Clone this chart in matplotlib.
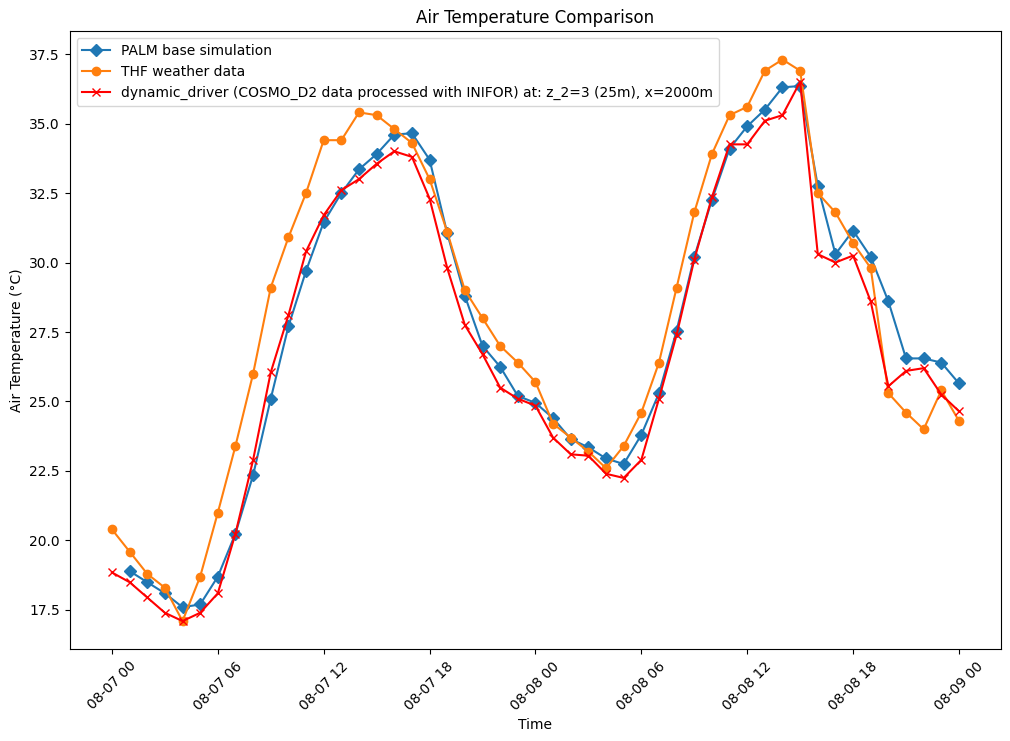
import matplotlib
matplotlib.use("Agg")
import matplotlib.pyplot as plt
import matplotlib.dates as mdates
import numpy as np
import pandas as pd

palm_times = pd.date_range("2023-08-07 01:00", "2023-08-09 00:00", freq="h")
palm_values = [18.9, 18.5, 18.1, 17.6, 17.7, 18.7, 20.25, 22.35, 25.1, 27.7,
               29.7, 31.45, 32.5, 33.35, 33.9, 34.6, 34.65, 33.7, 31.05, 28.8,
               27.0, 26.25, 25.2, 24.95, 24.4, 23.65, 23.35, 22.95, 22.75, 23.8,
               25.3, 27.55, 30.2, 32.25, 34.1, 34.9, 35.5, 36.3, 36.35, 32.75,
               30.3, 31.15, 30.2, 28.6, 26.55, 26.55, 26.4, 25.65]

thf_times = pd.date_range("2023-08-07 00:00", "2023-08-09 00:00", freq="h")
thf_values = [20.4, 19.6, 18.8, 18.3, 17.1, 18.7, 21.0, 23.4, 26.0, 29.1,
              30.9, 32.5, 34.4, 34.4, 35.4, 35.3, 34.8, 34.3, 33.0, 31.1,
              29.0, 28.0, 27.0, 26.4, 25.7, 24.2, 23.7, 23.2, 22.6, 23.4,
              24.6, 26.4, 29.1, 31.8, 33.9, 35.3, 35.6, 36.9, 37.3, 36.9,
              32.5, 31.8, 30.7, 29.8, 25.3, 24.6, 24.0, 25.4, 24.3]

dd_times = pd.date_range("2023-08-07 00:00", "2023-08-09 00:00", freq="h")
dd_values = [18.85, 18.5, 17.95, 17.4, 17.1, 17.4, 18.1, 20.25, 22.9, 26.05,
             28.1, 30.4, 31.7, 32.6, 33.0, 33.55, 34.0, 33.8, 32.3, 29.8,
             27.75, 26.7, 25.5, 25.1, 24.85, 23.7, 23.1, 23.05, 22.4, 22.25,
             22.9, 25.1, 27.4, 30.1, 32.35, 34.25, 34.25, 35.1, 35.3, 36.5,
             30.3, 30.0, 30.25, 28.6, 25.55, 26.1, 26.2, 25.25, 24.65]

labels = ["PALM base simulation", "THF weather data",
          "dynamic_driver (COSMO_D2 data processed with INIFOR) at: z_2=3 (25m), x=2000m"]

fig = plt.figure(figsize=(10.1, 7.41), dpi=100)
ax = fig.add_axes([0.0689, 0.1239, 0.9225, 0.8336])
ax.plot(palm_times, palm_values, marker="D", color="#1f77b4", label=labels[0])
ax.plot(thf_times, thf_values, marker="o", color="#ff7f0e", label=labels[1])
ax.plot(dd_times, dd_values, marker="x", color="red", label=labels[2])

ax.xaxis.set_major_locator(mdates.HourLocator(byhour=[0, 6, 12, 18]))
ax.xaxis.set_major_formatter(mdates.DateFormatter("%m-%d %H"))
plt.setp(ax.get_xticklabels(), rotation=45)
ax.set_xlabel("Time")
ax.set_ylabel("Air Temperature (°C)")
ax.set_title("Air Temperature Comparison")
ax.legend(loc="upper left")
fig.savefig("out.png", dpi=100)
